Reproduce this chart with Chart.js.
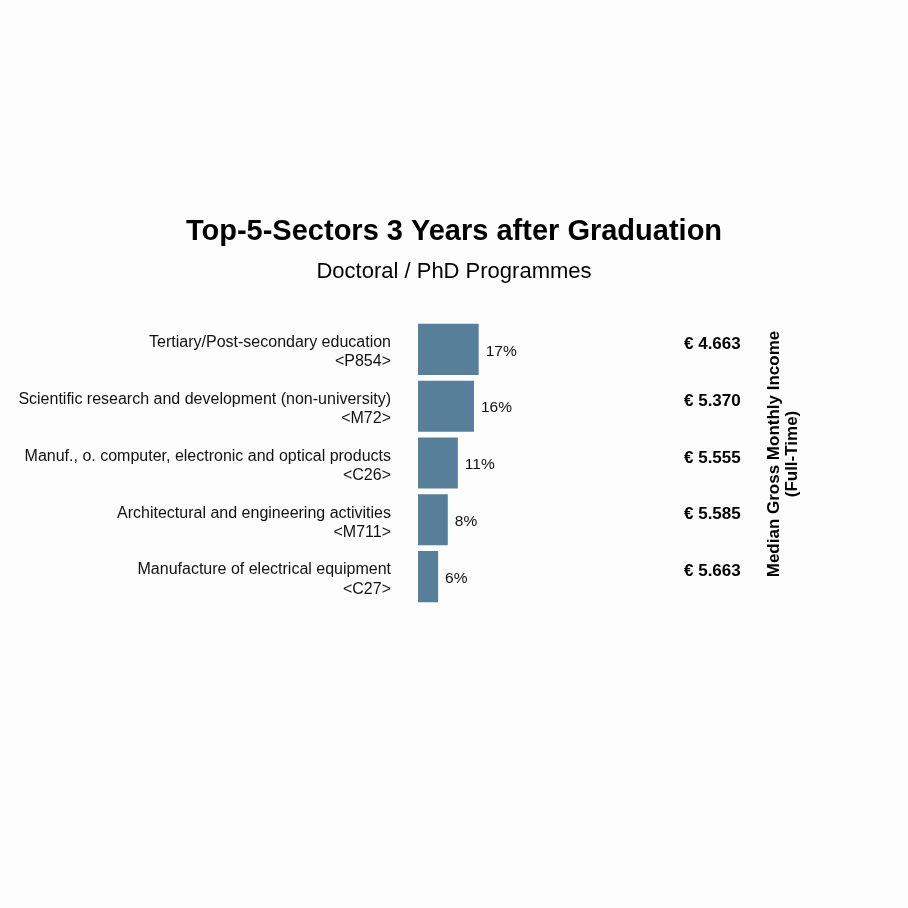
<!DOCTYPE html>
<html>
<head>
<meta charset="utf-8">
<script src="https://cdn.jsdelivr.net/npm/chart.js@4.4.1/dist/chart.umd.min.js"></script>
<style>
    html, body { margin: 0; padding: 0; background: #fdfdfd; }
    #wrap { width: 908px; height: 908px; }
</style>
</head>
<body>
<div id="wrap"><canvas id="chart-sectors"></canvas></div>
<script>
// data
const sectors = [
    ['Tertiary/Post-secondary education', '<P854>'],
    ['Scientific research and development (non-university)', '<M72>'],
    ['Manuf., o. computer, electronic and optical products', '<C26>'],
    ['Architectural and engineering activities', '<M711>'],
    ['Manufacture of electrical equipment', '<C27>']
];
const shares = [16.9, 15.6, 11.1, 8.3, 5.6];
const incomes = ['€ 4.663', '€ 5.370', '€ 5.555', '€ 5.585', '€ 5.663'];
const incomeTitle = ['Median Gross Monthly Income', '(Full-Time)'];

const FONT = "'Liberation Sans', Arial, Helvetica, sans-serif";

// percent labels right of each bar
const barLabels = {
    id: 'barLabels',
    afterDatasetsDraw(chart) {
        const ctx = chart.ctx;
        const meta = chart.getDatasetMeta(0);
        ctx.save();
        ctx.font = '15.5px ' + FONT;
        ctx.fillStyle = '#111';
        ctx.textAlign = 'left';
        ctx.textBaseline = 'middle';
        meta.data.forEach(function (bar, i) {
            ctx.fillText(Math.round(shares[i]) + '%', bar.x + 7, bar.y + 2);
        });
        ctx.restore();
    }
};

// rotated title of the income column (reads bottom to top)
const incomeAxisTitle = {
    id: 'incomeAxisTitle',
    afterDraw(chart) {
        const ctx = chart.ctx;
        const area = chart.chartArea;
        const cy = (area.top + area.bottom) / 2 - 9;
        ctx.save();
        ctx.font = 'bold 17px ' + FONT;
        ctx.fillStyle = '#000';
        ctx.textAlign = 'center';
        ctx.textBaseline = 'middle';
        incomeTitle.forEach(function (line, i) {
            ctx.save();
            ctx.translate(area.right + 94 + i * 18, cy);
            ctx.rotate(-Math.PI / 2);
            ctx.fillText(line, 0, 0);
            ctx.restore();
        });
        ctx.restore();
    }
};

const ctx1 = document.getElementById('chart-sectors');

new Chart(ctx1, {
    type: 'bar',
    data: {
        labels: sectors,
        datasets: [{
            data: shares,
            backgroundColor: '#587f99',
            borderWidth: 0,
            categoryPercentage: 1,
            barPercentage: 0.9
        }]
    },
    options: {
        indexAxis: 'y',
        responsive: true,
        maintainAspectRatio: false,
        animation: false,
        layout: {
            padding: { top: 214.6, bottom: 303, left: 15, right: 15 }
        },
        scales: {
            x: {
                display: false,
                min: 0,
                max: 73
            },
            y: {
                grid: { display: false, drawTicks: false },
                border: { display: false },
                ticks: {
                    color: '#111',
                    padding: 27,
                    labelOffset: 3,
                    font: { family: FONT, size: 16, lineHeight: 1.2 }
                },
                afterFit(scale) { scale.width = 403; }
            },
            y2: {
                type: 'category',
                position: 'right',
                labels: incomes,
                offset: true,
                grid: { display: false, drawTicks: false },
                border: { display: false },
                ticks: {
                    color: '#000',
                    padding: 4,
                    labelOffset: -5,
                    font: { family: FONT, size: 17, weight: 'bold' }
                },
                afterFit(scale) { scale.width = 213; }
            }
        },
        plugins: {
            legend: { display: false },
            tooltip: { enabled: false },
            title: {
                display: true,
                text: 'Top-5-Sectors 3 Years after Graduation',
                color: '#000',
                font: { family: FONT, size: 29, weight: 'bold', lineHeight: 1.2 },
                padding: { top: 0, bottom: 9.4 }
            },
            subtitle: {
                display: true,
                text: 'Doctoral / PhD Programmes',
                color: '#000',
                font: { family: FONT, size: 22, weight: 'normal', lineHeight: 1.2 },
                padding: { top: 0, bottom: 35.8 }
            }
        }
    },
    plugins: [barLabels, incomeAxisTitle]
});
</script>
</body>
</html>
